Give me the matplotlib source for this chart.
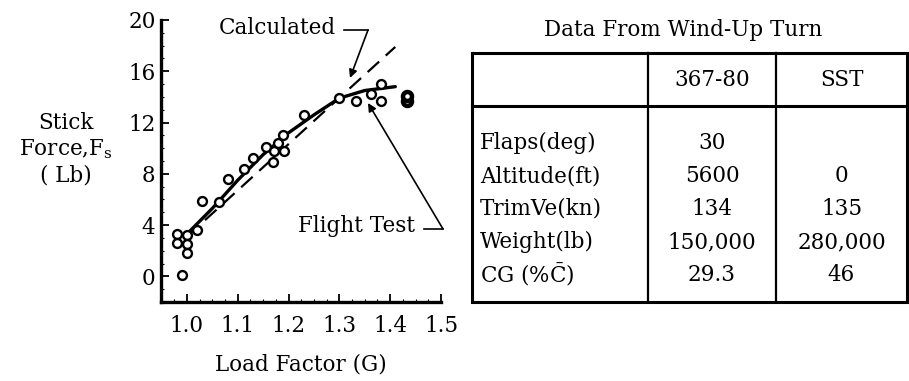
import matplotlib
matplotlib.use("Agg")
import matplotlib.pyplot as plt
from matplotlib.ticker import MultipleLocator

plt.rcParams['font.family'] = ['DejaVu Serif']
plt.rcParams['mathtext.fontset'] = 'dejavuserif'

# Flight test points: load factor (G) vs stick force (lb)
test_g = [0.99, 0.98, 0.98, 1.00, 1.00, 1.00, 1.02, 1.03, 1.063, 1.08, 1.113,
          1.131, 1.156, 1.169, 1.172, 1.18, 1.19, 1.192, 1.23, 1.30, 1.332,
          1.362, 1.381, 1.381]
test_fs = [0.1, 3.3, 2.6, 3.2, 2.5, 1.8, 3.6, 5.9, 5.8, 7.6, 8.4,
           9.2, 10.1, 8.9, 9.8, 10.4, 11.0, 9.8, 12.6, 13.95, 13.7,
           14.2, 15.0, 13.7]
# Bold point at the right end
bold_g = [1.433, 1.433]
bold_fs = [13.65, 14.1]

# Faired flight-test curve
fit_g = [1.0, 1.05, 1.10, 1.15, 1.20, 1.25, 1.30, 1.35, 1.41]
fit_fs = [3.3, 5.3, 7.5, 9.5, 11.2, 12.6, 13.9, 14.5, 14.8]

# Calculated gradient
calc_g = [1.0, 1.41]
calc_fs = [3.1, 17.9]

x_ticks = [1.0, 1.1, 1.2, 1.3, 1.4, 1.5]
x_labels = ["1.0", "1.1", "1.2", "1.3", "1.4", "1.5"]
y_ticks = [0, 4, 8, 12, 16, 20]
y_labels = ["0", "4", "8", "12", "16", "20"]

# Table of test conditions
table_title = "Data From Wind-Up Turn"
col_heads = ["367-80", "SST"]
row_labels = ["Flaps(deg)", "Altitude(ft)", "TrimVe(kn)", "Weight(lb)",
              r"CG (%$\mathrm{\bar{C}}$)"]
col_367 = ["30", "5600", "134", "150,000", "29.3"]
col_sst = ["", "0", "135", "280,000", "46"]

FS = 15.5
W, H = 909, 381
fig = plt.figure(figsize=(W / 100, H / 100), dpi=100)

ax = fig.add_axes([161 / W, 1 - 302 / H, (441 - 161) / W, (302 - 20) / H])
ax.set_xlim(0.949, 1.5)
ax.set_ylim(-2, 20)

ax.plot(calc_g, calc_fs, color='black', lw=1.6, dashes=(7, 4), zorder=2)
ax.plot(fit_g, fit_fs, color='black', lw=2.4, solid_capstyle='round', zorder=3)
ax.plot(test_g, test_fs, 'o', ms=6.4, mfc='white', mec='black', mew=1.7, zorder=4)
ax.plot(bold_g, bold_fs, 'o', ms=6.5, mfc='white', mec='black', mew=3.2, zorder=4)

for s in ['top', 'right']:
    ax.spines[s].set_visible(False)
for s in ['left', 'bottom']:
    ax.spines[s].set_linewidth(2.4)

ax.set_xticks(x_ticks)
ax.set_xticklabels(x_labels, fontsize=FS)
ax.set_yticks(y_ticks)
ax.set_yticklabels(y_labels, fontsize=FS)
ax.yaxis.set_minor_locator(MultipleLocator(1))
ax.xaxis.set_minor_locator(MultipleLocator(0.025))
ax.tick_params(axis='both', which='major', direction='in', length=6, width=1.3)
ax.tick_params(axis='both', which='minor', direction='in', length=2, width=0.8)
ax.tick_params(axis='x', which='major', pad=9)
ax.tick_params(axis='y', which='major', pad=4)
ax.set_xlabel("Load Factor (G)", fontsize=FS, labelpad=12)
ax.patch.set_alpha(0)

# Annotations
over = fig.add_axes([0, 0, 1, 1])
over.set_xlim(0, W)
over.set_ylim(H, 0)
over.axis('off')
over.patch.set_alpha(0)

over.text(66, 149, "Stick\nForce,F$_\\mathrm{s}$\n( Lb)", ha='center', va='center',
          fontsize=FS, linespacing=1.2)

over.text(336, 28, "Calculated", ha='right', va='center', fontsize=FS)
over.plot([344, 368], [30, 30], color='black', lw=1.2)
over.annotate("", xy=(350, 78), xytext=(368, 30),
              arrowprops=dict(arrowstyle='-|>', color='black', lw=1.2,
                              mutation_scale=12, shrinkA=0, shrinkB=0))

over.text(415, 226, "Flight Test", ha='right', va='center', fontsize=FS)
over.plot([424, 443], [229, 229], color='black', lw=1.2)
over.annotate("", xy=(368, 103), xytext=(443, 229),
              arrowprops=dict(arrowstyle='-|>', color='black', lw=1.2,
                              mutation_scale=12, shrinkA=0, shrinkB=0))

# Table
over.text(683, 30, table_title, ha='center', va='center', fontsize=FS)
L, R, T, B = 472, 907, 53, 302
c1, c2 = 648, 776
hline = 106
lw_box = 2.2
over.plot([L, R, R, L, L], [T, T, B, B, T], color='black', lw=lw_box,
          solid_joinstyle='miter')
over.plot([L, R], [hline, hline], color='black', lw=lw_box)
over.plot([c1, c1], [T, B], color='black', lw=1.6)
over.plot([c2, c2], [T, B], color='black', lw=1.6)

over.text((c1 + c2) / 2, 80, col_heads[0], ha='center', va='center', fontsize=FS)
over.text((c2 + R) / 2, 80, col_heads[1], ha='center', va='center', fontsize=FS)

row_y = [143, 176, 209, 242, 275]
for y, lab, a, b in zip(row_y, row_labels, col_367, col_sst):
    over.text(480, y, lab, ha='left', va='center', fontsize=FS)
    over.text((c1 + c2) / 2, y, a, ha='center', va='center', fontsize=FS)
    over.text((c2 + R) / 2, y, b, ha='center', va='center', fontsize=FS)

fig.savefig("out.png", dpi=100)
